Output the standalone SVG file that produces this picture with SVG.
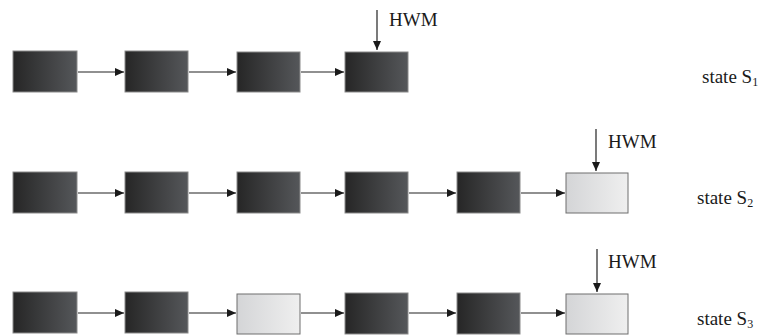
<svg xmlns="http://www.w3.org/2000/svg" width="763" height="336" viewBox="0 0 763 336">
<defs>
<linearGradient id="dark" x1="0" y1="0" x2="1" y2="0">
<stop offset="0" stop-color="#262626"/>
<stop offset="1" stop-color="#55575a"/>
</linearGradient>
<linearGradient id="light" x1="0" y1="0" x2="1" y2="0">
<stop offset="0" stop-color="#d4d5d7"/>
<stop offset="1" stop-color="#efefef"/>
</linearGradient>
<marker id="ah" markerWidth="9" markerHeight="8" refX="9" refY="4" orient="auto" markerUnits="userSpaceOnUse">
<path d="M0,0 L9,4 L0,8 Z" fill="#1a1a1a"/>
</marker>
</defs>
<style>
.d{fill:url(#dark);stroke:#8a8a8a;stroke-width:1}
.l{fill:url(#light);stroke:#6e6e6e;stroke-width:1}
.c{stroke:#222;stroke-width:1.2;fill:none;marker-end:url(#ah)}
.t{font-family:"Liberation Serif",serif;font-size:19px;fill:#1a1a1a}
.s{font-family:"Liberation Serif",serif;font-size:12px;fill:#1a1a1a}
</style>
<g id="row1">
<g id="n1_1"><rect class="d" x="13" y="51" width="64" height="41"/></g>
<g id="n1_2"><rect class="d" x="125" y="51" width="63" height="41"/></g>
<g id="n1_3"><rect class="d" x="237" y="52" width="63" height="40"/></g>
<g id="n1_4"><rect class="d" x="345" y="52" width="63" height="40"/></g>
<g id="hwm1"><text class="t" x="389" y="26">HWM</text></g>
<g id="state1"><text class="t" x="702" y="83">state S<tspan class="s" dy="3">1</tspan></text></g>
</g>
<g id="row2">
<g id="n2_1"><rect class="d" x="13" y="172" width="64" height="41"/></g>
<g id="n2_2"><rect class="d" x="125" y="172" width="63" height="41"/></g>
<g id="n2_3"><rect class="d" x="237" y="172" width="63" height="41"/></g>
<g id="n2_4"><rect class="d" x="345" y="172" width="63" height="41"/></g>
<g id="n2_5"><rect class="d" x="457" y="172" width="63" height="41"/></g>
<g id="n2_6"><rect class="l" x="566" y="173" width="62" height="40"/></g>
<g id="hwm2"><text class="t" x="608" y="148">HWM</text></g>
<g id="state2"><text class="t" x="697" y="204">state S<tspan class="s" dy="3">2</tspan></text></g>
</g>
<g id="row3">
<g id="n3_1"><rect class="d" x="13" y="292" width="64" height="41"/></g>
<g id="n3_2"><rect class="d" x="125" y="292" width="63" height="41"/></g>
<g id="n3_3"><rect class="l" x="237" y="294" width="63" height="40"/></g>
<g id="n3_4"><rect class="d" x="345" y="293" width="63" height="41"/></g>
<g id="n3_5"><rect class="d" x="457" y="293" width="63" height="41"/></g>
<g id="n3_6"><rect class="l" x="566" y="294" width="62" height="40"/></g>
<g id="hwm3"><text class="t" x="608" y="268">HWM</text></g>
<g id="state3"><text class="t" x="697" y="325">state S<tspan class="s" dy="3">3</tspan></text></g>
</g>
<g id="connectors">
<line class="c" x1="78" y1="72" x2="124" y2="72"/>
<line class="c" x1="189" y1="72" x2="236" y2="72"/>
<line class="c" x1="301" y1="72" x2="344" y2="72"/>
<line class="c" x1="377" y1="10" x2="377" y2="50"/>
<line class="c" x1="78" y1="193" x2="124" y2="193"/>
<line class="c" x1="189" y1="193" x2="236" y2="193"/>
<line class="c" x1="301" y1="193" x2="344" y2="193"/>
<line class="c" x1="409" y1="193" x2="456" y2="193"/>
<line class="c" x1="521" y1="193" x2="565" y2="193"/>
<line class="c" x1="596" y1="129" x2="596" y2="171"/>
<line class="c" x1="78" y1="313" x2="124" y2="313"/>
<line class="c" x1="189" y1="313" x2="236" y2="313"/>
<line class="c" x1="301" y1="313" x2="344" y2="313"/>
<line class="c" x1="409" y1="313" x2="456" y2="313"/>
<line class="c" x1="521" y1="313" x2="565" y2="313"/>
<line class="c" x1="597" y1="249" x2="597" y2="292"/>
</g>
</svg>
